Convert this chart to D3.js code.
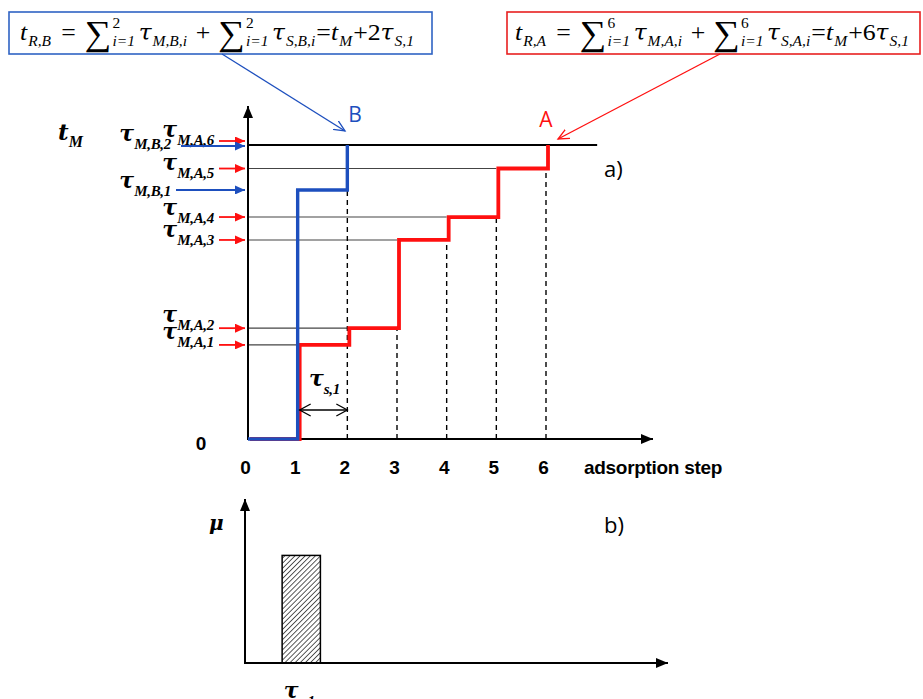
<!DOCTYPE html>
<html><head><meta charset="utf-8">
<script src="https://cdn.jsdelivr.net/npm/d3@7"></script>
<style>body{margin:0;background:#fff}svg{display:block}</style>
</head><body>
<svg id="c" width="923" height="699"></svg>
<script>
// ---------- data ----------
const stepTicks = [0, 1, 2, 3, 4, 5, 6];
const levelsA = [0.32, 0.377, 0.677, 0.755, 0.92, 1.0];   // tau_M,A,i (fraction of t_M)
const levelsB = [0.847, 1.0];                             // tau_M,B,i
const subsA = ["M,A,1", "M,A,2", "M,A,3", "M,A,4", "M,A,5", "M,A,6"];
const subsB = ["M,B,1", "M,B,2"];
const muBar = [{tau: 1, width: 0.68, mu: 0.66}];

const BLUE = "#1d4fbe", RED = "#ff1010";
const SERIF = "Liberation Serif, DejaVu Serif, serif";
const TAUF = "DejaVu Serif, Liberation Serif, serif";
const SANS = "Liberation Sans, Arial, sans-serif";
const svg = d3.select("#c");
const defs = svg.append("defs");

function fillMarker(id, color, L, W) {
  defs.append("marker").attr("id", id).attr("markerUnits", "userSpaceOnUse")
    .attr("markerWidth", L).attr("markerHeight", W).attr("refX", L).attr("refY", W / 2)
    .attr("orient", "auto")
    .append("path").attr("d", `M0,0L${L},${W/2}L0,${W}Z`).attr("fill", color);
}
function chevMarker(id, color, L, W, sw) {
  defs.append("marker").attr("id", id).attr("markerUnits", "userSpaceOnUse")
    .attr("markerWidth", L + 2).attr("markerHeight", W + 2).attr("refX", L).attr("refY", W / 2 + 1)
    .attr("orient", "auto-start-reverse")
    .append("path").attr("d", `M0,1L${L},${W/2+1}L0,${W+1}`).attr("fill", "none")
    .attr("stroke", color).attr("stroke-width", sw);
}
fillMarker("axK", "#000", 12, 10);
fillMarker("arR", RED, 10, 9);
fillMarker("arB", BLUE, 10, 9);
chevMarker("chB", BLUE, 11, 10, 1.3);
chevMarker("chR", RED, 11, 10, 1.3);
chevMarker("chK", "#000", 11, 12, 1.3);

// hatch
const pat = defs.append("pattern").attr("id", "hatch").attr("patternUnits", "userSpaceOnUse")
  .attr("width", 3.6).attr("height", 3.6).attr("patternTransform", "rotate(45)");
pat.append("rect").attr("width", 3.6).attr("height", 3.6).attr("fill", "#fff");
pat.append("line").attr("x1", 0).attr("y1", 0).attr("x2", 0).attr("y2", 3.6)
  .attr("stroke", "#000").attr("stroke-width", 1.3);

// ---------- panel a scales ----------
const x = d3.scaleLinear().domain([0, 6]).range([248, 546]);
const y = d3.scaleLinear().domain([0, 1]).range([439, 145]);
const ga = svg.append("g");

// guide lines from y axis to step points
levelsA.slice(0, 5).forEach((v, i) => {
  ga.append("line").attr("x1", x(0)).attr("x2", x(i + 1)).attr("y1", y(v)).attr("y2", y(v))
    .attr("stroke", "#444").attr("stroke-width", 1.1);
});
// dashed verticals
stepTicks.slice(2).forEach(s => {
  let top = levelsA[s - 2];
  if (s - 1 < levelsB.length) top = Math.max(top, levelsB[s - 2]);
  ga.append("line").attr("x1", x(s)).attr("x2", x(s)).attr("y1", y(0)).attr("y2", y(top))
    .attr("stroke", "#000").attr("stroke-width", 1.4).attr("stroke-dasharray", "5,4");
});
// t_M line
ga.append("line").attr("x1", x(0)).attr("x2", x(7.03)).attr("y1", y(1)).attr("y2", y(1))
  .attr("stroke", "#000").attr("stroke-width", 2);

// axes
ga.append("line").attr("x1", x(0)).attr("x2", x(0)).attr("y1", y(0) + 1).attr("y2", 106)
  .attr("stroke", "#000").attr("stroke-width", 2).attr("marker-end", "url(#axK)");
ga.append("line").attr("x1", x(0) - 1).attr("x2", 653).attr("y1", y(0)).attr("y2", y(0))
  .attr("stroke", "#000").attr("stroke-width", 2).attr("marker-end", "url(#axK)");

// step lines
const stepLine = d3.line().x(d => x(d[0])).y(d => y(d[1])).curve(d3.curveStepAfter);
const ptsA = [[0, 0]].concat(levelsA.map((v, i) => [i + 1, v]));
const ptsB = [[0, 0]].concat(levelsB.map((v, i) => [i + 1, v]));
ga.append("path").attr("d", stepLine(ptsA)).attr("fill", "none").attr("stroke", RED)
  .attr("stroke-width", 3.8).attr("transform", "translate(2,0)");
ga.append("path").attr("d", stepLine(ptsB)).attr("fill", "none").attr("stroke", BLUE)
  .attr("stroke-width", 3.4);

// x tick labels
const xAxis = d3.axisBottom(x).tickValues(stepTicks).tickSize(0).tickFormat(d3.format("d"));
const gx = ga.append("g").attr("transform", `translate(0,${y(0)})`).call(xAxis);
gx.select(".domain").remove();
gx.selectAll("text").attr("y", 35).attr("dy", 0).attr("dx", -3)
  .attr("font-family", SANS).attr("font-weight", "bold")
  .attr("font-size", 19).attr("fill", "#000");
ga.append("text").attr("x", 584).attr("y", 474).attr("font-family", SANS)
  .attr("font-weight", "bold").attr("font-size", 19).attr("letter-spacing", -0.3).text("adsorption step");
ga.append("text").attr("x", 201).attr("y", 450).attr("text-anchor", "middle")
  .attr("font-family", SANS).attr("font-weight", "bold")
  .attr("font-size", 19).text("0");

// tau labels with arrows
function tau(g, xPos, yBase, sub, anchor) {
  const t = g.append("text").attr("x", xPos).attr("y", yBase).attr("text-anchor", anchor || "end")
    .attr("font-weight", "bold").attr("font-style", "italic").attr("fill", "#000");
  t.append("tspan").attr("font-family", TAUF).attr("font-size", 22).text("τ");
  if (sub) t.append("tspan").attr("font-family", SERIF).attr("font-size", 15)
    .attr("letter-spacing", -0.3).attr("dy", 8).text(sub);
  return t;
}
const arrowShift = {"M,A,6": -4, "M,B,2": 1};
const textShift = {"M,A,6": -2, "M,B,2": -3, "M,A,5": 3, "M,A,4": 0, "M,A,3": -1, "M,A,2": -4, "M,A,1": -4};
levelsA.forEach((v, i) => {
  const s = subsA[i];
  const ay = y(v) + (arrowShift[s] || 0);
  ga.append("line").attr("x1", 219).attr("x2", 245).attr("y1", ay).attr("y2", ay)
    .attr("stroke", RED).attr("stroke-width", 1.8).attr("marker-end", "url(#arR)");
  tau(ga, 214, ay - 2 + (textShift[s] || 0), s);
});
levelsB.forEach((v, i) => {
  const s = subsB[i];
  const ay = y(v) + (arrowShift[s] || 0);
  const x1 = i === 0 ? 176 : 181;
  ga.append("line").attr("x1", x1).attr("x2", 245).attr("y1", ay).attr("y2", ay)
    .attr("stroke", BLUE).attr("stroke-width", 1.8).attr("marker-end", "url(#arB)");
  tau(ga, 171, ay - 2 + (textShift[s] || 0), s);
});
// t_M label
const tm = ga.append("text").attr("x", 58).attr("y", 140).attr("font-family", TAUF)
  .attr("font-weight", "bold").attr("font-style", "italic");
tm.append("tspan").attr("font-size", 23).text("t");
tm.append("tspan").attr("font-family", SERIF).attr("font-size", 16).attr("dy", 7).text("M");

// tau_s,1 double arrow
ga.append("line").attr("x1", x(1) + 2).attr("x2", x(2)).attr("y1", 410).attr("y2", 410)
  .attr("stroke", "#000").attr("stroke-width", 1.3)
  .attr("marker-start", "url(#chK)").attr("marker-end", "url(#chK)");
tau(ga, 309, 386, "s,1", "start");

// A / B labels
ga.append("text").attr("x", 355).attr("y", 122).attr("text-anchor", "middle").attr("fill", BLUE)
  .attr("font-family", "Open Sans, Liberation Sans, sans-serif").attr("font-size", 21).text("B");
ga.append("text").attr("x", 546).attr("y", 127).attr("text-anchor", "middle").attr("fill", RED)
  .attr("font-family", "Open Sans, Liberation Sans, sans-serif").attr("font-size", 21).text("A");
ga.append("text").attr("x", 604).attr("y", 177).attr("font-family", "Open Sans, Liberation Sans, sans-serif")
  .attr("font-size", 22).text("a)");

// ---------- formula boxes ----------
function mathRow(g, x0, yb, parts, size) {
  let cx = x0;
  parts.forEach(p => {
    cx += (p.gap || 0) * size;
    const big = p.big ? 1.45 : 1;
    const t = g.append("text").attr("x", cx).attr("y", yb + (p.big ? size * 0.2 : 0))
      .attr("font-family", p.tau ? TAUF : SERIF).attr("font-size", size * big * (p.tau ? 0.9 : 1))
      .attr("font-style", p.up ? "normal" : "italic").text(p.b);
    cx += t.node().getComputedTextLength();
    let w = 0;
    if (p.sup) {
      const s = g.append("text").attr("x", cx + 1).attr("y", yb - size * 0.5).attr("font-family", SERIF)
        .attr("font-size", size * 0.6).text(p.sup);
      w = Math.max(w, s.node().getComputedTextLength());
    }
    if (p.sub) {
      const s = g.append("text").attr("x", cx + 1).attr("y", yb + size * 0.25).attr("font-family", SERIF)
        .attr("font-size", size * 0.6).attr("font-style", "italic").text(p.sub);
      w = Math.max(w, s.node().getComputedTextLength());
    }
    if (w) cx += w + 2;
  });
  return cx - x0;
}
function formula(label, n, bx, bw, color, tx, tw) {
  const g = svg.append("g");
  g.append("rect").attr("x", bx).attr("y", 12).attr("width", bw).attr("height", 42)
    .attr("fill", "#fff").attr("stroke", color).attr("stroke-width", 1.6);
  const inner = g.append("g");
  const parts = [
    {b: "t", sub: "R," + label},
    {b: "=", up: true, gap: 0.35},
    {b: "∑", up: true, big: true, sub: "i=1", sup: n, gap: 0.35},
    {b: "τ", tau: true, sub: "M," + label + ",i", gap: 0.1},
    {b: "+", up: true, gap: 0.3},
    {b: "∑", up: true, big: true, sub: "i=1", sup: n, gap: 0.3},
    {b: "τ", tau: true, sub: "S," + label + ",i", gap: 0.1},
    {b: "=", up: true},
    {b: "t", sub: "M"},
    {b: "+" + n, up: true},
    {b: "τ", tau: true, sub: "S,1"}
  ];
  const w = mathRow(inner, 0, 0, parts, 24);
  const k = tw / w;
  inner.attr("transform", `translate(${tx},40) scale(${k},1)`);
}
formula("B", "2", 9, 423, "#2f63c4", 20, 395);
formula("A", "6", 507, 413, "#e82020", 515, 395);

// annotation arrows
svg.append("line").attr("x1", 222).attr("y1", 54).attr("x2", 345).attr("y2", 131)
  .attr("stroke", BLUE).attr("stroke-width", 1.3).attr("marker-end", "url(#chB)");
svg.append("line").attr("x1", 720).attr("y1", 54).attr("x2", 558).attr("y2", 139)
  .attr("stroke", RED).attr("stroke-width", 1.3).attr("marker-end", "url(#chR)");

// ---------- panel b ----------
const xb = d3.scaleLinear().domain([0, 7.5]).range([245, 667]);
const yb = d3.scaleLinear().domain([0, 1]).range([663, 500]);
const gb = svg.append("g");
gb.selectAll("rect.bar").data(muBar).join("rect").attr("class", "bar")
  .attr("x", d => xb(d.tau - d.width / 2)).attr("width", d => xb(d.tau + d.width / 2) - xb(d.tau - d.width / 2))
  .attr("y", d => yb(d.mu)).attr("height", d => yb(0) - yb(d.mu))
  .attr("fill", "url(#hatch)").attr("stroke", "#000").attr("stroke-width", 1.5);
gb.append("line").attr("x1", xb(0)).attr("x2", xb(0)).attr("y1", yb(0) + 1).attr("y2", 499)
  .attr("stroke", "#000").attr("stroke-width", 2).attr("marker-end", "url(#axK)");
gb.append("line").attr("x1", xb(0) - 1).attr("x2", 668).attr("y1", yb(0)).attr("y2", yb(0))
  .attr("stroke", "#000").attr("stroke-width", 2).attr("marker-end", "url(#axK)");
gb.append("text").attr("x", 209).attr("y", 530).attr("font-family", TAUF)
  .attr("font-weight", "bold").attr("font-style", "italic").attr("font-size", 20).text("μ");
gb.append("text").attr("x", 604).attr("y", 533).attr("font-family", "Open Sans, Liberation Sans, sans-serif")
  .attr("font-size", 22).text("b)");
tau(gb, xb(muBar[0].tau) - 2, 698, "s,1", "middle");
</script>
</body></html>
